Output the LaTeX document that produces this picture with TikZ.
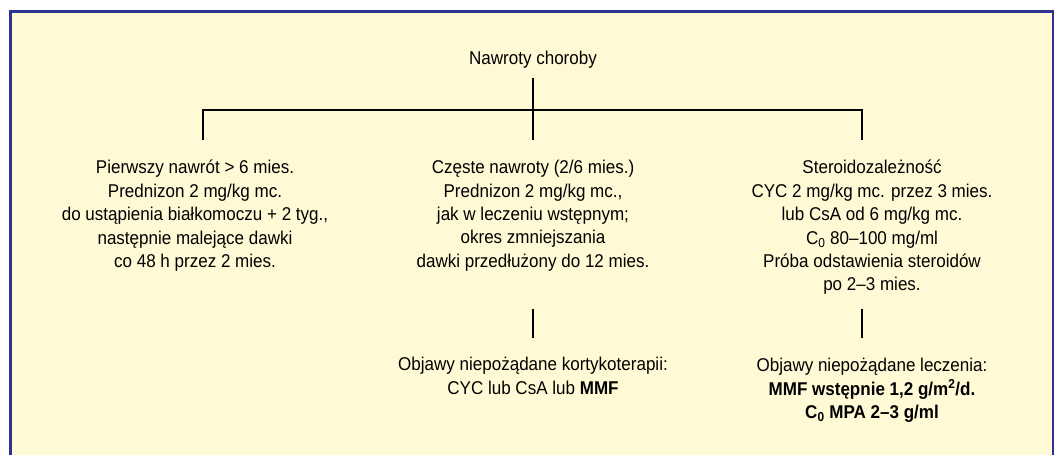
\documentclass[tikz,border=0pt]{standalone}
\usepackage{fontspec}
\setmainfont{Liberation Sans}[FakeStretch=0.92]
\usepackage{xcolor}
\usepackage{tikz}
\usetikzlibrary{positioning}

\definecolor{framecol}{RGB}{46,49,146}
\definecolor{panelcol}{RGB}{255,249,214}

\begin{document}
\begin{tikzpicture}[x=1pt, y=-1pt,
    txt/.style={align=center, inner sep=0pt, anchor=north, font=\fontsize{18.5}{23.4}\selectfont},
    link/.style={line width=2.4pt},
    panel/.style={draw=framecol, fill=panelcol, line width=2.6pt}]
      \useasboundingbox (0,0) rectangle (1055,455);
      \clip (0,0) rectangle (1055,455);

      % Background panel
      \draw[panel] (10.5,11.5) rectangle (1053,480);

      % Root
      \node[font=\fontsize{18.5}{23.4}\selectfont, anchor=base] (root) at (533,64) {Nawroty choroby};

      % Bar and branch ends
      \coordinate (bar) at (533,110);
      \coordinate (leftend) at (203,140);
      \coordinate (rightend) at (862,140);

      % Branches
      \node[txt] (first) at (195,160) {
        Pierwszy nawrót > 6 mies.\\
        Prednizon 2 mg/kg mc.\\
        do ustąpienia białkomoczu + 2 tyg.,\\
        następnie malejące dawki\\
        co 48 h przez 2 mies.
      };

      \node[txt] (frequent) at (533,160) {
        Częste nawroty (2/6 mies.)\\
        Prednizon 2 mg/kg mc.,\\
        jak w leczeniu wstępnym;\\
        okres zmniejszania\\
        dawki przedłużony do 12 mies.
      };

      \node[txt] (depend) at (872,160) {
        Steroidozależność\\
        CYC 2 mg/kg mc. przez 3 mies.\\
        lub CsA od 6 mg/kg mc.\\
        C\textsubscript{0} 80–100 mg/ml\\
        Próba odstawienia steroidów\\
        po 2–3 mies.
      };

      % Adverse effects
      \node[txt] (adversecs) at (533,357) {
        Objawy niepożądane kortykoterapii:\\
        CYC lub CsA lub \textbf{MMF}
      };

      \node[txt] (adversetx) at (872,358) {
        Objawy niepożądane leczenia:\\
        \textbf{MMF wstępnie 1,2 g/m\textsuperscript{2}/d.}\\
        \textbf{C\textsubscript{0} MPA 2–3 g/ml}
      };

      % Tree lines
      \draw[link, shorten <=7pt] (root) -- (root |- leftend);
      \draw[link] (leftend) |- (rightend |- bar) -- (rightend);
      \draw[link, shorten <=38pt, shorten >=19pt] (frequent) -- (adversecs);
      \draw[link, shorten <=14pt, shorten >=20pt] ([xshift=-10pt]depend.south) -- ([xshift=-10pt]adversetx.north);
    \end{tikzpicture}
\end{document}
